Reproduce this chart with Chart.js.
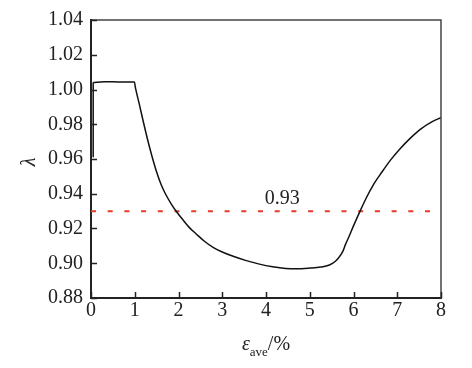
<!DOCTYPE html>
<html>
<head>
<meta charset="utf-8">
<script src="https://cdn.jsdelivr.net/npm/chart.js@4/dist/chart.umd.min.js"></script>
<style>
html,body{margin:0;padding:0;background:#fff;}
#wrap{width:472px;height:368px;}
</style>
</head>
<body>
<div id="wrap"><canvas id="c" width="472" height="368"></canvas></div>
<script>
// Data
const startX = [0.05, 0.05];
const startY = [0.961, 1.004];
const strainX = [0.05,0.3,0.7,0.99,1.02,1.1,1.2,1.3,1.4,1.5,1.6,1.7,1.85,1.96,2.1,2.25,2.4,2.6,2.8,3.0,3.25,3.55,3.85,4.15,4.45,4.7,5.0,5.25,5.45,5.58,5.67,5.75,5.82,5.9,6.0,6.15,6.3,6.45,6.65,6.85,7.05,7.3,7.55,7.8,8.0];
const lambdaY = [1.004,1.0045,1.0043,1.0043,1.0005,0.992,0.981,0.9705,0.961,0.9525,0.9455,0.940,0.9335,0.9295,0.925,0.9205,0.917,0.9125,0.909,0.9065,0.904,0.9015,0.8995,0.898,0.897,0.8968,0.8972,0.8978,0.899,0.901,0.9035,0.9065,0.911,0.9155,0.9215,0.930,0.938,0.945,0.9525,0.9595,0.9655,0.972,0.9775,0.9815,0.9838];
const refX = [0, 8];
const refY = [0.93, 0.93];
const refLabel = '0.93';
const refLabelPos = [4.37, 0.937];
const xTicks = [0,1,2,3,4,5,6,7,8];
const yTicks = [0.88,0.90,0.92,0.94,0.96,0.98,1.00,1.02,1.04];

const FONT = '"Liberation Serif", "Times New Roman", serif';
const FS = 20;

const decor = {
  id: 'decor',
  afterDraw(chart) {
    const ctx = chart.ctx;
    const a = chart.chartArea;
    const xs = chart.scales.x, ys = chart.scales.y;
    ctx.save();
    ctx.strokeStyle = '#444';
    ctx.lineWidth = 1.5;
    ctx.beginPath();
    ctx.moveTo(a.left, a.top); ctx.lineTo(a.right, a.top); ctx.lineTo(a.right, a.bottom);
    ctx.stroke();
    ctx.strokeStyle = '#222';
    ctx.lineWidth = 1.5;
    ctx.beginPath();
    xTicks.forEach(v => { const px = Math.round(xs.getPixelForValue(v)) + 0.5; ctx.moveTo(px, a.bottom); ctx.lineTo(px, a.bottom - 6); });
    yTicks.forEach(v => { const py = Math.round(ys.getPixelForValue(v)) + 0.5; ctx.moveTo(a.left, py); ctx.lineTo(a.left + 6, py); });
    ctx.stroke();
    ctx.fillStyle = '#222';
    ctx.font = FS + 'px ' + FONT;
    ctx.textAlign = 'center';
    ctx.textBaseline = 'middle';
    ctx.fillText(refLabel, xs.getPixelForValue(refLabelPos[0]), ys.getPixelForValue(refLabelPos[1]));
    ctx.save();
    ctx.translate(30, (a.top + a.bottom) / 2 + 3);
    ctx.rotate(-Math.PI / 2);
    ctx.font = 'italic ' + FS + 'px ' + FONT;
    ctx.fillText('λ', 0, 0);
    ctx.restore();
    const cx = (a.left + a.right) / 2;
    const base = 350;
    ctx.textAlign = 'left';
    ctx.textBaseline = 'alphabetic';
    ctx.font = 'italic ' + FS + 'px ' + FONT;
    const w1 = ctx.measureText('ε').width;
    ctx.font = '13px ' + FONT;
    const w2 = ctx.measureText('ave').width;
    ctx.font = FS + 'px ' + FONT;
    const w3 = ctx.measureText('/%').width;
    let x0 = cx - (w1 + w2 + w3) / 2;
    ctx.font = 'italic ' + FS + 'px ' + FONT;
    ctx.fillText('ε', x0, base); x0 += w1;
    ctx.font = '13px ' + FONT;
    ctx.fillText('ave', x0, base + 6); x0 += w2;
    ctx.font = FS + 'px ' + FONT;
    ctx.fillText('/%', x0, base);
    ctx.restore();
  }
};

new Chart(document.getElementById('c'), {
  type: 'line',
  data: {
    datasets: [
      {
        data: startX.map((x, i) => ({x: x, y: startY[i]})),
        borderColor: '#111', borderWidth: 1.5, pointRadius: 0, tension: 0, fill: false
      },
      {
        data: strainX.map((x, i) => ({x: x, y: lambdaY[i]})),
        borderColor: '#111', borderWidth: 1.5, pointRadius: 0,
        cubicInterpolationMode: 'monotone', fill: false
      },
      {
        data: refX.map((x, i) => ({x: x, y: refY[i]})),
        borderColor: '#e8392b', borderWidth: 2, borderDash: [5, 11.7],
        pointRadius: 0, tension: 0, fill: false
      }
    ]
  },
  options: {
    responsive: false,
    animation: false,
    devicePixelRatio: 1,
    layout: { padding: { top: 17, right: 31, left: 0, bottom: 0 } },
    plugins: { legend: { display: false }, tooltip: { enabled: false } },
    scales: {
      x: {
        type: 'linear', min: 0, max: 8,
        afterFit(s) { s.height = 70; },
        afterBuildTicks(s) { s.ticks = xTicks.map(v => ({value: v})); },
        grid: { display: false, drawTicks: false },
        border: { display: true, width: 2, color: '#222' },
        ticks: { font: { family: FONT, size: FS }, color: '#222', padding: 1, maxRotation: 0 }
      },
      y: {
        type: 'linear', min: 0.88, max: 1.04,
        afterFit(s) { s.width = 91; },
        afterBuildTicks(s) { s.ticks = yTicks.map(v => ({value: v})); },
        grid: { display: false, drawTicks: false },
        border: { display: true, width: 2, color: '#222' },
        ticks: { font: { family: FONT, size: FS }, color: '#222', padding: 8,
          callback: v => Number(v).toFixed(2) }
      }
    }
  },
  plugins: [decor]
});
</script>
</body>
</html>
